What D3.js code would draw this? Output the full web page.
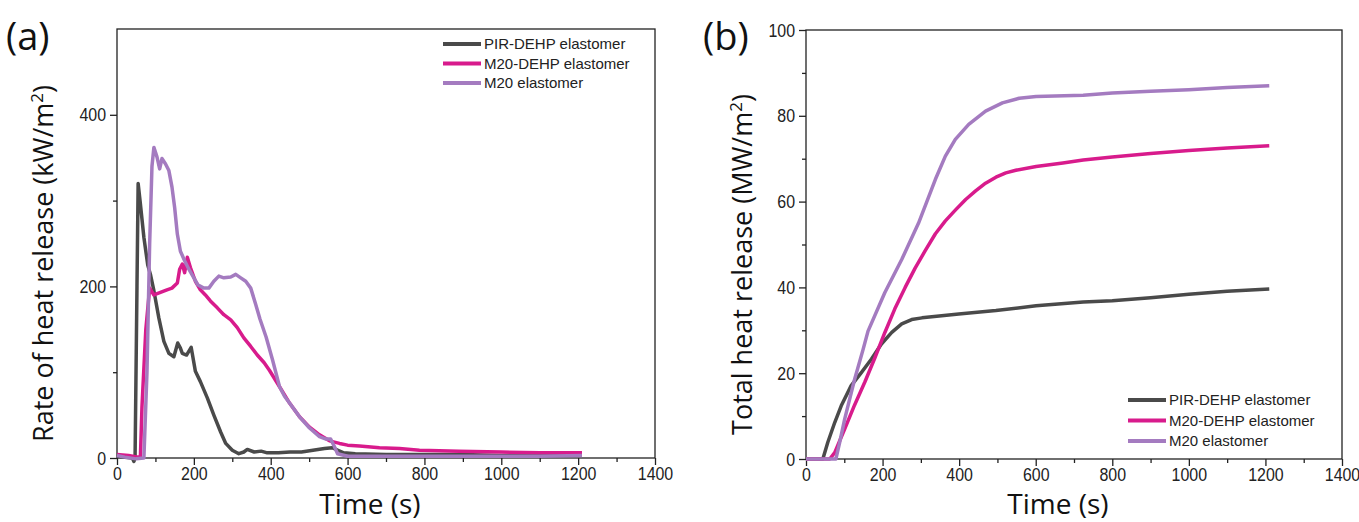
<!DOCTYPE html>
<html>
<head>
<meta charset="utf-8">
<script src="https://cdn.jsdelivr.net/npm/d3@7"></script>
<style>
  body { margin: 0; background: #fff; }
  svg { display: block; }
</style>
</head>
<body>
<div id="chart"></div>
<script>
// series names + colours
const seriesNames = ["PIR-DEHP elastomer", "M20-DEHP elastomer", "M20 elastomer"];
const seriesColors = ["#4a4a4a", "#d81b8c", "#a47bc0"];

// (a) heat release rate, [time s, kW/m2]
const hrrPIR = [
  [0, 2], [20, 1], [40, 0], [44, -4], [47, 0], [52, 200], [55, 320], [60, 300], [70, 257], [80, 225],
  [87, 214], [96, 195], [109, 163], [122, 136], [135, 122], [148, 118], [158, 134], [165, 128], [170, 122],
  [181, 120], [193, 129], [204, 101], [217, 89], [235, 70], [252, 50], [270, 30], [283, 17], [300, 9],
  [317, 5], [330, 7], [339, 10], [357, 7], [375, 8], [391, 6], [420, 6], [450, 7], [480, 7], [510, 9],
  [540, 11], [560, 12], [575, 9], [590, 6], [620, 5], [700, 4], [800, 4], [900, 4], [1000, 3], [1100, 3], [1210, 3]
];
const hrrM20DEHP = [
  [0, 4], [30, 3], [55, 1], [61, 2], [65, 60], [75, 150], [85, 198], [96, 190], [113, 193], [130, 196],
  [143, 198], [157, 204], [163, 220], [170, 226], [176, 216], [183, 234], [191, 222], [204, 206], [217, 196],
  [230, 190], [243, 183], [261, 175], [278, 167], [296, 161], [313, 152], [330, 140], [348, 130], [365, 120],
  [383, 111], [397, 102], [423, 83], [449, 64], [475, 48], [501, 36], [527, 27], [553, 20], [579, 17],
  [600, 15], [631, 14], [683, 12], [735, 11], [787, 9], [890, 8], [1000, 7], [1100, 6], [1210, 6]
];
const hrrM20 = [
  [0, 3], [20, 1], [50, -1], [70, 0], [78, 100], [85, 250], [91, 340], [96, 362], [104, 351], [111, 337],
  [117, 349], [126, 343], [135, 335], [143, 316], [150, 292], [157, 261], [165, 241], [176, 230], [187, 220],
  [200, 210], [210, 202], [226, 198], [239, 198], [252, 206], [265, 212], [278, 210], [296, 211], [309, 214],
  [322, 210], [335, 206], [348, 198], [361, 179], [372, 162], [388, 141], [405, 114], [423, 83], [436, 72],
  [449, 64], [475, 48], [501, 35], [527, 25], [544, 22], [556, 22], [565, 14], [574, 5], [600, 2],
  [700, 2], [800, 2], [900, 2], [1000, 2], [1100, 2], [1210, 3]
];

// (b) total heat release, [time s, MW/m2]
const thrPIR = [
  [0, 0], [44, 0], [57, 3.9], [75, 8.5], [92, 12.4], [118, 17.1], [145, 20.2], [171, 23.3], [197, 26.8],
  [224, 29.5], [250, 31.5], [276, 32.5], [303, 32.9], [399, 33.8], [496, 34.6], [601, 35.7], [724, 36.6],
  [800, 36.9], [900, 37.6], [1000, 38.4], [1100, 39.1], [1210, 39.6]
];
const thrM20DEHP = [
  [0, 0], [62, 0], [75, 1.5], [101, 7], [127, 12.6], [154, 18], [180, 23.6], [206, 29.5], [232, 35],
  [259, 40], [285, 44.5], [311, 48.5], [338, 52.5], [364, 55.5], [390, 58], [417, 60.5], [443, 62.5],
  [469, 64.3], [496, 65.7], [522, 66.7], [548, 67.3], [601, 68.2], [671, 69], [724, 69.7], [800, 70.4],
  [900, 71.2], [1000, 71.9], [1100, 72.5], [1210, 73]
];
const thrM20 = [
  [0, 0], [78, 0], [88, 3.9], [101, 9.3], [127, 18.6], [149, 25.5], [162, 29.8], [206, 38.8], [250, 46.5],
  [294, 55], [338, 65.2], [364, 70.6], [390, 74.5], [425, 78], [469, 81.1], [513, 83], [557, 84.1],
  [601, 84.5], [724, 84.8], [800, 85.3], [900, 85.7], [1000, 86.1], [1100, 86.6], [1210, 87]
];

const xMajor = [0, 200, 400, 600, 800, 1000, 1200, 1400];
const xMinor = [100, 300, 500, 700, 900, 1100, 1300];
const hrrMajor = [0, 200, 400];
const hrrMinor = [100, 300];
const thrMajor = [0, 20, 40, 60, 80, 100];
const thrMinor = [10, 30, 50, 70, 90];

const W = 1359, H = 522;
const tickFont = "'Liberation Sans', Arial, sans-serif";
const titleFont = "'Open Sans', 'Noto Sans', sans-serif";
const legendFont = "'Liberation Sans', Arial, sans-serif";

const svg = d3.select("#chart").append("svg")
  .attr("width", W)
  .attr("height", H)
  .style("background", "#fff");

function drawPanel(p) {
  const x = d3.scaleLinear().domain([0, 1400]).range([p.left, p.right]);
  const y = d3.scaleLinear().domain(p.yDomain).range([p.bottom, p.top]);
  const g = svg.append("g");

  // frame
  g.append("rect")
    .attr("x", p.left).attr("y", p.top)
    .attr("width", p.right - p.left).attr("height", p.bottom - p.top)
    .attr("fill", "none").attr("stroke", "#222").attr("stroke-width", 1.3);

  // axes - majors with labels, minors without
  // labels squeezed horizontally, the original uses a narrow face
  const styleAxis = sel => {
    sel.select(".domain").remove();
    sel.selectAll("line").attr("stroke", "#222").attr("stroke-width", 1.3);
    sel.selectAll("text").attr("fill", "#222")
      .style("font-family", tickFont).style("font-size", "19px")
      .attr("transform", "scale(0.84,1)");
  };
  g.append("g").attr("transform", `translate(0,${p.bottom})`)
    .call(d3.axisBottom(x).tickValues(xMajor).tickSize(7).tickPadding(2).tickFormat(d3.format("d")))
    .call(styleAxis);
  g.append("g").attr("transform", `translate(0,${p.bottom})`)
    .call(d3.axisBottom(x).tickValues(xMinor).tickSize(4).tickFormat(""))
    .call(styleAxis);
  g.append("g").attr("transform", `translate(${p.left},0)`)
    .call(d3.axisLeft(y).tickValues(p.yMajor).tickSize(7).tickPadding(6).tickFormat(d3.format("d")))
    .call(styleAxis);
  g.append("g").attr("transform", `translate(${p.left},0)`)
    .call(d3.axisLeft(y).tickValues(p.yMinor).tickSize(4).tickFormat(""))
    .call(styleAxis);

  // lines
  const line = d3.line().x(d => x(d[0])).y(d => y(d[1]));
  p.series.forEach((s, i) => {
    g.append("path")
      .datum(s)
      .attr("fill", "none")
      .attr("stroke", seriesColors[i])
      .attr("stroke-width", 3.5)
      .attr("stroke-linejoin", "round")
      .attr("d", line);
  });

  // titles
  g.append("text")
    .attr("x", (p.left + p.right) / 2 - 16).attr("y", H - 8)
    .attr("text-anchor", "middle")
    .style("font-family", titleFont).style("font-size", "28px").attr("fill", "#111")
    .text("Time (s)");

  const yt = g.append("text")
    .attr("transform", `translate(${p.yTitleX},${(p.top + p.bottom) / 2 + 20}) rotate(-90)`)
    .attr("text-anchor", "middle")
    .style("font-family", titleFont).style("font-size", "27px").attr("fill", "#111");
  yt.append("tspan").text(p.yTitle + " (" + p.unit + "/m");
  yt.append("tspan").attr("dy", -10).style("font-size", "17px").text("2");
  yt.append("tspan").attr("dy", 10).text(")");

  g.append("text")
    .attr("x", p.tagX).attr("y", 50)
    .style("font-family", titleFont).style("font-size", "38px").attr("fill", "#111")
    .text(p.tag);

  // legend
  const leg = g.append("g").attr("transform", `translate(${p.legX},${p.legY})`);
  seriesNames.forEach((name, i) => {
    const row = leg.append("g").attr("transform", `translate(0,${i * p.legStep})`);
    row.append("line").attr("x1", 0).attr("x2", 38).attr("y1", 0).attr("y2", 0)
      .attr("stroke", seriesColors[i]).attr("stroke-width", 4);
    row.append("text").attr("x", 41).attr("y", 0).attr("dy", "0.35em")
      .style("font-family", legendFont).style("font-size", "15px").attr("fill", "#222")
      .text(name);
  });
}

drawPanel({
  left: 117, right: 655, top: 29, bottom: 458,
  yDomain: [0, 500], yMajor: hrrMajor, yMinor: hrrMinor,
  series: [hrrPIR, hrrM20DEHP, hrrM20],
  yTitle: "Rate of heat release", unit: "kW", yTitleX: 53,
  tag: "(a)", tagX: 6,
  legX: 443, legY: 44, legStep: 19.5
});

drawPanel({
  left: 806, right: 1342, top: 30, bottom: 459,
  yDomain: [0, 100], yMajor: thrMajor, yMinor: thrMinor,
  series: [thrPIR, thrM20DEHP, thrM20],
  yTitle: "Total heat release", unit: "MW", yTitleX: 752,
  tag: "(b)", tagX: 703,
  legX: 1128, legY: 400, legStep: 20.5
});
</script>
</body>
</html>
